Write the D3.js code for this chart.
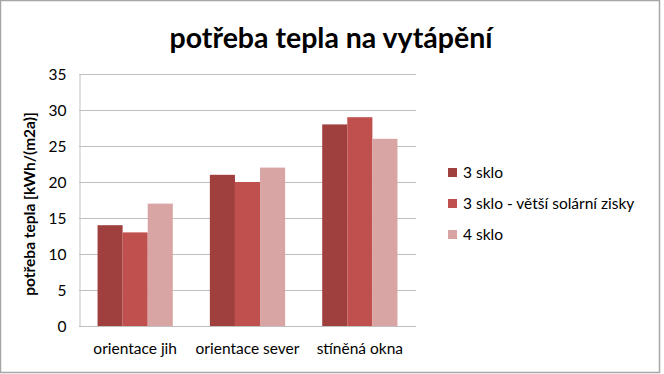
<!DOCTYPE html>
<html>
<head>
<meta charset="utf-8">
<script src="https://cdn.jsdelivr.net/npm/d3@7"></script>
<style>
  html, body { margin: 0; padding: 0; background: #fff; }
  text { font-family: Lato, "Open Sans", sans-serif; fill: #000; }
</style>
</head>
<body>
<svg id="chart" width="664" height="374"></svg>
<script>
const categories = ['orientace jih', 'orientace sever', 'stíněná okna']
const seriesNames = ['3 sklo', '3 sklo - větší solární zisky', '4 sklo']
const series3sklo = [14, 21, 28]
const series3skloSolar = [13, 20, 29]
const series4sklo = [17, 22, 26]
const yTicks = [0, 5, 10, 15, 20, 25, 30, 35]
const colors = ['#A0403E', '#C0504D', '#D9A5A4']

const seriesValues = [series3sklo, series3skloSolar, series4sklo]
const rows = categories.map((cat, i) => ({
  cat: cat,
  values: seriesValues.map((vals, s) => ({ name: seriesNames[s], value: vals[i] }))
}))

const svg = d3.select('#chart')

// outer frame
svg.append('rect')
  .attr('x', 0.5).attr('y', 0.5)
  .attr('width', 659).attr('height', 372)
  .attr('fill', '#fff')
  .attr('stroke', '#a6a6a6')
  .attr('stroke-width', 1.5)

const plotLeft = 79, plotRight = 416, plotTop = 74, plotBottom = 326

let x0 = d3.scaleBand()
  .domain(categories)
  .range([plotLeft, plotRight])
  .paddingInner(0.33)
  .paddingOuter(0.165)

let x1 = d3.scaleBand()
  .domain(seriesNames)
  .range([0, x0.bandwidth()])

let y = d3.scaleLinear()
  .domain([0, 35])
  .range([plotBottom, plotTop])

// gridlines
svg.append('g')
  .selectAll('line')
  .data(yTicks.filter(t => t > 0))
  .enter()
  .append('line')
  .attr('x1', plotLeft).attr('x2', plotRight)
  .attr('y1', d => Math.round(y(d)) + 0.5)
  .attr('y2', d => Math.round(y(d)) + 0.5)
  .attr('stroke', '#bfbfbf')

// y axis
let yAxis = svg.append('g')
  .attr('transform', `translate(${plotLeft + 0.5},0.5)`)
  .call(d3.axisLeft(y).tickValues(yTicks).tickSize(0).tickPadding(13))
yAxis.select('.domain').attr('stroke', '#bfbfbf')
yAxis.selectAll('text')
  .style('font-size', '15.5px')
  .style('font-family', 'Lato, sans-serif')
  .attr('fill', '#222')

// bars
let groups = svg.append('g')
  .selectAll('g')
  .data(rows)
  .enter()
  .append('g')
  .attr('transform', d => `translate(${x0(d.cat)},0)`)

groups.selectAll('rect')
  .data(d => d.values)
  .enter()
  .append('rect')
  .attr('x', d => x1(d.name))
  .attr('width', x1.bandwidth())
  .attr('y', d => y(d.value))
  .attr('height', d => y(0) - y(d.value))
  .attr('fill', (d, i) => colors[i])

// x axis
let xAxis = svg.append('g')
  .attr('transform', `translate(0,${plotBottom + 0.5})`)
  .call(d3.axisBottom(x0).tickSize(0).tickPadding(16))
xAxis.select('.domain').attr('stroke', '#bfbfbf').attr('d', `M${plotLeft},0H${plotRight}`)
xAxis.selectAll('text')
  .style('font-size', '15.5px')
  .style('font-family', 'Lato, sans-serif')
  .attr('fill', '#222')

// title
svg.append('text')
  .attr('x', 331)
  .attr('y', 48)
  .attr('text-anchor', 'middle')
  .style('font-size', '28.5px')
  .style('font-weight', 'bold')
  .text('potřeba tepla na vytápění')

// y axis title
svg.append('text')
  .attr('transform', 'translate(35,204) rotate(-90)')
  .attr('text-anchor', 'middle')
  .style('font-size', '15.5px')
  .style('font-weight', 'bold')
  .text('potřeba tepla [kWh/(m2a)]')

// legend
let legend = svg.append('g')
  .attr('transform', 'translate(448,168)')
  .selectAll('g')
  .data(seriesNames)
  .enter()
  .append('g')
  .attr('transform', (d, i) => `translate(0, ${i * 31})`)

legend.append('rect')
  .attr('width', 9).attr('height', 9)
  .attr('fill', (d, i) => colors[i])

legend.append('text')
  .attr('x', 15)
  .attr('y', 9.5)
  .style('font-size', '15.5px')
  .attr('fill', '#222')
  .text(d => d)
</script>
</body>
</html>
